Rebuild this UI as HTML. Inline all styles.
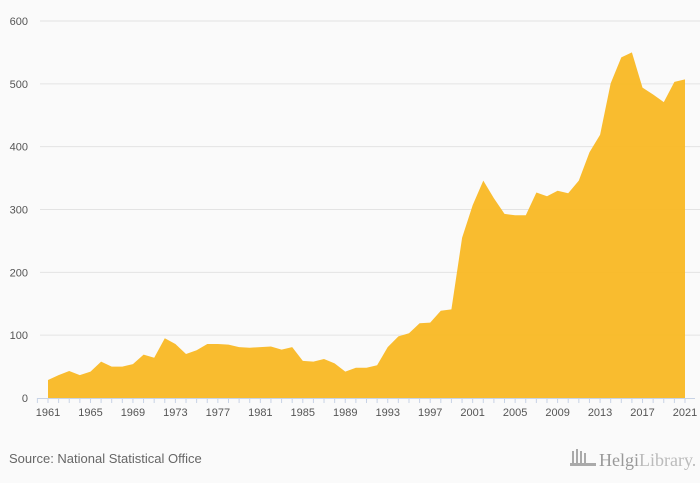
<!DOCTYPE html>
<html><head><meta charset="utf-8"><style>
body{margin:0;background:#fafafa;font-family:"Liberation Sans",sans-serif}
svg{display:block}
</style></head><body>
<svg id="chart" width="700" height="483" xmlns="http://www.w3.org/2000/svg">
<rect width="700" height="483" fill="#fafafa"/>
<g id="grid"></g>
<g id="plot"></g>
<g id="xaxis"></g>
<text x="9" y="463" font-size="13" fill="#666">Source: National Statistical Office</text>
<g>
<g fill="#aaa"><rect x="572" y="451" width="2" height="12"/><rect x="576" y="449" width="2" height="14"/><rect x="580" y="451" width="2" height="12"/><rect x="584" y="453" width="2" height="10"/><rect x="570" y="463" width="26" height="3"/></g>
<text x="599" y="466" font-family="Liberation Serif, serif" font-size="18" fill="#999">Helgi<tspan fill="#bbb">Library.</tspan></text>
</g>
</svg>
<script>
const years=[];for(let y=1961;y<=2021;y++)years.push(y);
const values=[28.6,36.5,43,36.5,42,58,50,50,54,69,64,95,86,70,76,86,86,85,81,80,81,82,77,81,59,58,62,55,42,48,48,52,81,98,103,119,120,139,141,255,307,346,318,293,291,291,327,321,330,326,346,391,419,501,542,550,494,483,471,503,507];
const yTicks=[0,100,200,300,400,500,600];
const xLabels=[1961,1965,1969,1973,1977,1981,1985,1989,1993,1997,2001,2005,2009,2013,2017,2021];
const NS="http://www.w3.org/2000/svg";
const X0=48,X1=685,Y0=398,Y1=21;
const xs=y=>X0+(y-1961)*(X1-X0)/60;
const ys=v=>Y0-v*(Y0-Y1)/600;
function mk(t,a,p){const e=document.createElementNS(NS,t);for(const k in a)e.setAttribute(k,a[k]);p.appendChild(e);return e;}
const grid=document.getElementById('grid'),plot=document.getElementById('plot'),xa=document.getElementById('xaxis');
yTicks.forEach(v=>{
 if(v>0){const l=mk('line',{x1:40,x2:700,y1:ys(v),y2:ys(v),stroke:'#e3e3e3'},grid);
 
 }
 const t=mk('text',{x:28,y:ys(v)+4,'font-size':11,fill:'#555','text-anchor':'end'},grid);t.textContent=v;
 
 
});
let d='M'+xs(years[0])+','+Y0;
years.forEach((y,i)=>{d+=' L'+xs(y).toFixed(1)+','+ys(values[i]).toFixed(1);});
d+=' L'+xs(years[years.length-1])+','+Y0+' Z';
const area=mk('path',{d:d,fill:'#f9b824','fill-opacity':0.95},plot);


const ax=mk('line',{x1:37,x2:695,y1:Y0+0.5,y2:Y0+0.5,stroke:'#c8d3e6'},xa);


for(let y=1960;y<=2022;y++){const x=xs(y);if(x<37||x>695)continue;
 const tk=mk('line',{x1:x,x2:x,y1:Y0,y2:Y0+5,stroke:'#c8d3e6'},xa);
 
 }
xLabels.forEach(y=>{const t=mk('text',{x:xs(y),y:416,'font-size':11,fill:'#555','text-anchor':'middle'},xa);t.textContent=y;
 
 });
</script>
</body></html>
